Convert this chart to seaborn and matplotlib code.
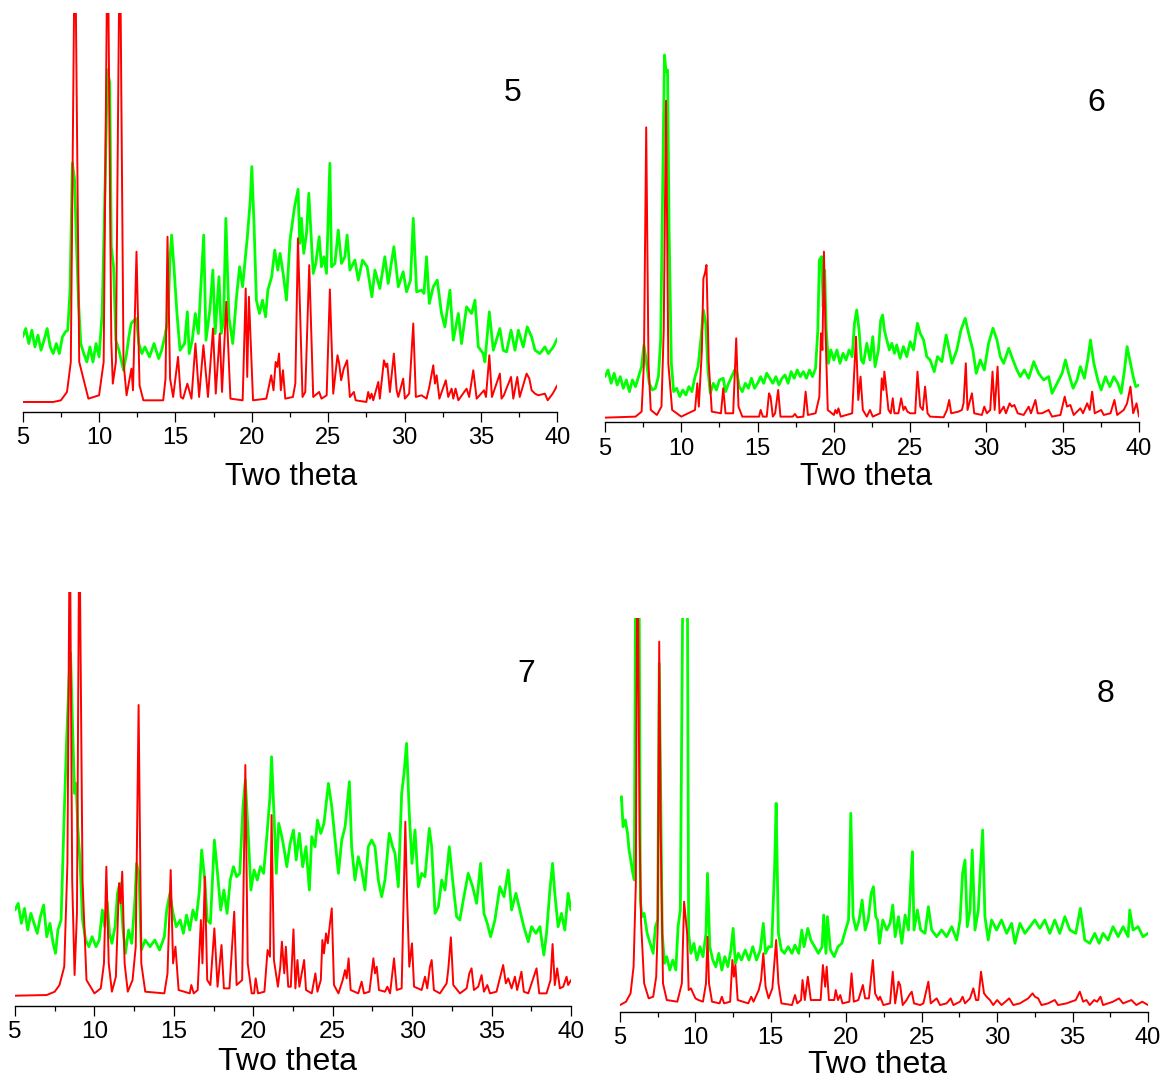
import pandas as pd
import matplotlib
matplotlib.use("Agg")
import matplotlib.pyplot as plt
from matplotlib.ticker import MultipleLocator
import seaborn as sns

# values: (two theta, intensity in arbitrary units)
# panel 5
red5 = [(5.0, 30), (7.0, 30), (7.5, 35), (7.9, 60), (8.15, 150), (8.42, 1500), (8.7, 150),
        (9.3, 40), (10.0, 50), (10.3, 150), (10.56, 1500), (10.8, 210), (10.9, 85), (11.1, 150),
        (11.36, 1500), (11.6, 150), (11.8, 50), (12.12, 130), (12.22, 65), (12.45, 480),
        (12.65, 80), (12.9, 35), (14.2, 35), (14.35, 100), (14.48, 525), (14.65, 100),
        (14.85, 45), (15.17, 165), (15.35, 45), (15.5, 40), (15.78, 85), (16.05, 40),
        (16.31, 205), (16.55, 45), (16.83, 200), (17.13, 45), (17.46, 250), (17.64, 55),
        (17.9, 235), (18.05, 60), (18.33, 330), (18.6, 40), (19.4, 35), (19.6, 370),
        (19.7, 105), (19.81, 345), (20.08, 35), (20.95, 40), (21.27, 110), (21.42, 65),
        (21.56, 150), (21.67, 135), (21.78, 175), (21.9, 65), (22.04, 125), (22.19, 40),
        (22.69, 45), (22.85, 85), (23.02, 520), (23.32, 45), (23.5, 60), (23.76, 440),
        (24.02, 45), (24.41, 60), (24.56, 40), (24.9, 50), (25.11, 367), (25.33, 55),
        (25.61, 170), (25.72, 145), (25.85, 95), (26.02, 130), (26.24, 155), (26.42, 45),
        (26.68, 60), (26.8, 35), (27.5, 30), (27.62, 60), (27.73, 40), (27.84, 55),
        (27.95, 35), (28.28, 90), (28.38, 40), (28.65, 155), (28.78, 135), (28.87, 145),
        (29.04, 60), (29.3, 175), (29.48, 65), (29.59, 45), (29.91, 100), (30.02, 40),
        (30.3, 55), (30.57, 265), (30.74, 45), (31.11, 50), (31.44, 40), (31.62, 75),
        (31.88, 140), (31.99, 85), (32.1, 110), (32.28, 40), (32.7, 95), (32.86, 45),
        (33.08, 70), (33.19, 40), (33.34, 70), (33.52, 35), (34.06, 70), (34.23, 45),
        (34.5, 125), (34.72, 40), (35.2, 65), (35.33, 45), (35.55, 170), (35.72, 45),
        (36.24, 115), (36.35, 40), (36.5, 50), (36.97, 105), (37.12, 40), (37.38, 105),
        (37.54, 45), (37.99, 115), (38.17, 100), (38.32, 65), (38.54, 55), (38.76, 50),
        (39.19, 55), (39.37, 35), (39.7, 55), (40.0, 80)]
green5 = [(5.0, 225), (5.2, 250), (5.4, 205), (5.6, 245), (5.8, 195), (6.0, 230), (6.2, 185),
          (6.4, 215), (6.6, 250), (6.8, 195), (7.0, 175), (7.2, 205), (7.4, 175), (7.6, 225),
          (7.8, 240), (7.95, 245), (8.1, 365), (8.25, 745), (8.4, 695), (8.5, 535),
          (8.65, 335), (8.8, 205), (9.0, 175), (9.2, 150), (9.4, 195), (9.6, 150), (9.8, 205),
          (10.0, 165), (10.2, 295), (10.4, 695), (10.55, 1025), (10.7, 985), (10.8, 495),
          (10.95, 435), (11.1, 215), (11.3, 185), (11.45, 155), (11.6, 125), (11.8, 175),
          (11.95, 225), (12.1, 265), (12.3, 275), (12.45, 280), (12.6, 205), (12.8, 175),
          (13.0, 195), (13.3, 165), (13.6, 205), (13.9, 160), (14.1, 185), (14.3, 225),
          (14.5, 275), (14.65, 465), (14.75, 530), (14.9, 435), (15.1, 295), (15.3, 185),
          (15.6, 205), (15.78, 300), (15.9, 175), (16.1, 215), (16.3, 295), (16.5, 235),
          (16.65, 365), (16.85, 530), (17.0, 215), (17.25, 305), (17.45, 425), (17.6, 235),
          (17.85, 405), (18.0, 235), (18.15, 275), (18.3, 580), (18.5, 285), (18.75, 205),
          (19.0, 345), (19.2, 435), (19.4, 375), (19.55, 450), (19.7, 520), (19.9, 635),
          (20.0, 735), (20.15, 555), (20.3, 335), (20.5, 295), (20.7, 335), (20.9, 285),
          (21.05, 365), (21.3, 405), (21.5, 485), (21.7, 425), (21.85, 475), (22.05, 415),
          (22.27, 335), (22.5, 515), (22.8, 615), (23.03, 667), (23.14, 505), (23.25, 580),
          (23.4, 475), (23.58, 535), (23.73, 655), (23.86, 545), (24.02, 415), (24.19, 445),
          (24.41, 525), (24.56, 435), (24.72, 465), (24.89, 415), (25.11, 745), (25.22, 435),
          (25.44, 445), (25.66, 545), (25.87, 445), (26.09, 465), (26.24, 530), (26.42, 425),
          (26.75, 455), (26.97, 395), (27.25, 455), (27.55, 435), (27.86, 345), (28.06, 425),
          (28.38, 370), (28.71, 465), (28.93, 385), (29.3, 495), (29.59, 375), (29.91, 420),
          (30.13, 360), (30.39, 395), (30.57, 580), (30.79, 360), (31.11, 365), (31.27, 355),
          (31.44, 465), (31.62, 325), (31.88, 375), (32.14, 395), (32.42, 295), (32.64, 255),
          (32.97, 365), (33.19, 215), (33.52, 295), (33.73, 205), (34.06, 315), (34.39, 295),
          (34.61, 335), (34.83, 195), (35.15, 175), (35.26, 150), (35.55, 300), (35.81, 185),
          (36.24, 250), (36.46, 185), (36.68, 180), (36.97, 245), (37.23, 185), (37.45, 245),
          (37.77, 195), (38.03, 255), (38.32, 225), (38.54, 185), (38.86, 175), (39.19, 195),
          (39.41, 175), (39.74, 195), (40.0, 220)]

# panel 6
red6 = [(5.0, 14), (7.0, 17), (7.4, 32), (7.55, 177), (7.7, 885), (7.85, 177), (8.0, 37),
        (8.4, 22), (8.7, 47), (8.85, 277), (9.0, 965), (9.15, 177), (9.4, 37), (10.0, 17),
        (10.9, 37), (11.05, 117), (11.15, 47), (11.35, 217), (11.45, 432), (11.55, 447),
        (11.65, 472), (11.8, 177), (12.0, 32), (12.6, 27), (12.75, 102), (12.9, 27),
        (13.4, 27), (13.6, 252), (13.75, 47), (14.0, 17), (15.1, 17), (15.2, 37), (15.35, 17),
        (15.6, 17), (15.75, 87), (15.85, 77), (16.0, 17), (16.15, 27), (16.35, 97), (16.5, 17),
        (17.3, 17), (17.45, 25), (17.6, 15), (18.0, 17), (18.15, 92), (18.3, 22), (18.8, 27),
        (19.05, 77), (19.15, 267), (19.25, 217), (19.35, 512), (19.45, 277), (19.6, 37),
        (20.0, 22), (20.1, 37), (20.2, 27), (20.3, 42), (20.45, 17), (21.2, 27), (21.45, 257),
        (21.6, 67), (21.75, 137), (21.9, 37), (22.16, 17), (22.37, 37), (22.55, 17),
        (23.03, 27), (23.14, 132), (23.25, 97), (23.31, 152), (23.42, 107), (23.58, 37),
        (23.73, 27), (23.86, 72), (23.97, 27), (24.23, 27), (24.41, 72), (24.56, 37),
        (24.67, 47), (24.82, 32), (25.0, 27), (25.33, 27), (25.48, 152), (25.66, 47),
        (25.83, 37), (25.98, 107), (26.14, 27), (26.31, 17), (27.19, 15), (27.41, 37),
        (27.56, 67), (27.69, 27), (28.17, 32), (28.39, 37), (28.5, 57), (28.65, 177),
        (28.76, 37), (29.05, 87), (29.2, 27), (29.7, 22), (29.86, 47), (30.03, 27),
        (30.25, 37), (30.4, 152), (30.54, 37), (30.73, 167), (30.86, 27), (31.13, 47),
        (31.28, 27), (31.52, 57), (31.67, 47), (31.83, 52), (32.05, 27), (32.44, 22),
        (32.77, 47), (32.92, 27), (33.21, 67), (33.36, 27), (33.64, 27), (34.08, 37),
        (34.3, 17), (34.85, 22), (35.13, 77), (35.28, 47), (35.5, 52), (35.72, 22),
        (36.16, 42), (36.33, 27), (36.6, 57), (36.77, 37), (36.93, 92), (37.1, 27),
        (37.52, 37), (37.69, 22), (38.13, 27), (38.39, 67), (38.57, 22), (39.0, 37),
        (39.22, 57), (39.44, 107), (39.62, 27), (39.84, 57), (40.0, 17)]
green6 = [(5.0, 137), (5.2, 157), (5.4, 117), (5.6, 147), (5.8, 112), (6.0, 137), (6.2, 102),
          (6.4, 127), (6.6, 92), (6.8, 127), (7.0, 107), (7.2, 137), (7.4, 167), (7.55, 232),
          (7.7, 187), (7.9, 117), (8.1, 97), (8.3, 102), (8.5, 137), (8.65, 247), (8.8, 777),
          (8.9, 1102), (9.0, 1052), (9.1, 1057), (9.2, 577), (9.35, 177), (9.5, 92), (9.7, 102),
          (9.9, 77), (10.1, 97), (10.3, 82), (10.5, 107), (10.7, 92), (10.9, 137), (11.1, 167),
          (11.3, 257), (11.45, 337), (11.6, 297), (11.75, 157), (11.9, 87), (12.1, 117),
          (12.3, 97), (12.5, 127), (12.75, 132), (12.9, 92), (13.1, 117), (13.3, 137),
          (13.5, 157), (13.65, 147), (13.8, 107), (14.0, 92), (14.2, 117), (14.4, 102),
          (14.6, 132), (14.8, 102), (15.0, 117), (15.2, 137), (15.4, 117), (15.6, 147),
          (15.8, 132), (16.0, 117), (16.2, 137), (16.4, 112), (16.6, 132), (16.8, 142),
          (17.0, 117), (17.2, 152), (17.4, 132), (17.6, 157), (17.8, 137), (18.0, 152),
          (18.2, 132), (18.4, 157), (18.6, 137), (18.8, 162), (18.95, 277), (19.05, 487),
          (19.2, 497), (19.3, 347), (19.4, 457), (19.5, 277), (19.65, 177), (19.8, 217),
          (20.0, 187), (20.2, 217), (20.4, 177), (20.6, 207), (20.8, 187), (21.0, 217),
          (21.2, 197), (21.35, 297), (21.5, 337), (21.65, 277), (21.8, 187), (21.94, 177),
          (22.16, 237), (22.37, 187), (22.55, 257), (22.7, 167), (22.92, 217), (23.07, 307),
          (23.2, 322), (23.31, 277), (23.47, 247), (23.64, 217), (23.8, 237), (23.97, 207),
          (24.12, 232), (24.34, 192), (24.56, 227), (24.78, 197), (25.0, 242), (25.22, 217),
          (25.48, 297), (25.66, 267), (25.88, 247), (26.09, 197), (26.31, 187), (26.58, 152),
          (26.79, 197), (27.08, 182), (27.36, 262), (27.52, 227), (27.74, 177), (28.06, 217),
          (28.33, 277), (28.61, 312), (28.83, 267), (29.11, 217), (29.33, 147), (29.6, 187),
          (29.86, 157), (30.14, 237), (30.43, 282), (30.69, 247), (30.91, 197), (31.13, 177),
          (31.46, 222), (31.74, 187), (32.0, 157), (32.22, 137), (32.48, 157), (32.77, 132),
          (33.1, 182), (33.42, 147), (33.75, 127), (34.08, 137), (34.3, 87), (34.63, 117),
          (34.96, 147), (35.18, 187), (35.39, 147), (35.68, 102), (35.94, 127), (36.16, 167),
          (36.42, 132), (36.64, 187), (36.82, 247), (37.04, 177), (37.3, 127), (37.52, 97),
          (37.8, 137), (38.09, 107), (38.35, 137), (38.61, 117), (38.83, 87), (39.05, 157),
          (39.22, 227), (39.4, 187), (39.62, 137), (39.79, 107), (40.0, 112)]

# panel 7
red7 = [(5.0, 30), (7.0, 32), (7.5, 42), (7.8, 62), (8.1, 117), (8.3, 427), (8.45, 1500),
        (8.6, 377), (8.75, 92), (8.9, 277), (9.05, 1500), (9.25, 377), (9.5, 77), (10.0, 37),
        (10.4, 52), (10.6, 127), (10.75, 417), (10.9, 127), (11.1, 42), (11.35, 87),
        (11.55, 367), (11.65, 307), (11.75, 402), (11.9, 127), (12.1, 42), (12.4, 77),
        (12.6, 177), (12.78, 902), (12.95, 127), (13.2, 42), (14.4, 37), (14.6, 97),
        (14.8, 407), (14.95, 127), (15.1, 177), (15.3, 47), (16.0, 37), (16.1, 62),
        (16.25, 37), (16.5, 47), (16.7, 257), (16.8, 127), (16.95, 387), (17.1, 77),
        (17.3, 62), (17.55, 232), (17.75, 57), (18.0, 182), (18.15, 52), (18.5, 52),
        (18.8, 282), (18.95, 62), (19.3, 77), (19.5, 722), (19.65, 127), (19.9, 37),
        (20.05, 37), (20.15, 82), (20.3, 37), (20.7, 42), (20.9, 167), (21.05, 147),
        (21.15, 572), (21.3, 137), (21.55, 57), (21.7, 117), (21.8, 192), (21.95, 97),
        (22.05, 177), (22.2, 57), (22.36, 57), (22.53, 229), (22.65, 52), (22.78, 137),
        (22.9, 57), (23.2, 137), (23.32, 47), (23.68, 37), (23.91, 97), (24.04, 42),
        (24.25, 77), (24.35, 197), (24.45, 157), (24.58, 217), (24.69, 187), (24.79, 232),
        (24.94, 292), (25.08, 62), (25.36, 37), (25.63, 77), (25.78, 107), (25.88, 82),
        (26.0, 142), (26.13, 47), (26.61, 37), (26.82, 72), (26.97, 37), (27.31, 42),
        (27.56, 142), (27.66, 97), (27.77, 117), (27.91, 47), (28.29, 42), (28.44, 57),
        (28.61, 37), (28.86, 142), (29.03, 47), (29.34, 52), (29.49, 377), (29.57, 552),
        (29.68, 327), (29.82, 117), (29.99, 187), (30.12, 57), (30.6, 47), (30.81, 87),
        (30.95, 52), (31.12, 117), (31.23, 137), (31.37, 47), (31.75, 37), (32.17, 67),
        (32.27, 107), (32.44, 205), (32.59, 62), (33.01, 37), (33.43, 52), (33.6, 97),
        (33.74, 112), (33.89, 47), (34.16, 57), (34.37, 92), (34.52, 42), (34.73, 62),
        (34.9, 37), (35.31, 42), (35.52, 82), (35.73, 122), (35.9, 67), (36.05, 82),
        (36.26, 52), (36.47, 87), (36.61, 47), (36.88, 102), (37.03, 42), (37.31, 37),
        (37.83, 112), (38.0, 37), (38.46, 37), (38.71, 77), (38.84, 185), (38.98, 62),
        (39.13, 112), (39.3, 52), (39.51, 57), (39.72, 87), (39.82, 62), (40.0, 77)]
green7 = [(5.0, 287), (5.2, 307), (5.4, 247), (5.6, 292), (5.8, 227), (6.0, 277), (6.2, 247),
          (6.4, 217), (6.6, 267), (6.8, 302), (7.0, 207), (7.2, 247), (7.4, 187), (7.55, 157),
          (7.7, 227), (7.9, 257), (8.1, 577), (8.25, 797), (8.4, 977), (8.5, 1057), (8.6, 877),
          (8.75, 637), (8.85, 667), (8.95, 537), (9.1, 427), (9.25, 257), (9.45, 197),
          (9.65, 177), (9.85, 207), (10.1, 177), (10.3, 197), (10.5, 287), (10.65, 237),
          (10.8, 312), (10.95, 217), (11.1, 187), (11.3, 237), (11.45, 337), (11.6, 367),
          (11.8, 227), (11.95, 157), (12.15, 227), (12.35, 187), (12.55, 317), (12.65, 427),
          (12.8, 397), (12.95, 167), (13.2, 197), (13.5, 177), (13.8, 197), (14.1, 167),
          (14.4, 207), (14.55, 287), (14.75, 337), (14.95, 277), (15.15, 237), (15.4, 257),
          (15.6, 217), (15.8, 272), (16.0, 227), (16.2, 287), (16.4, 257), (16.6, 342),
          (16.75, 467), (16.95, 377), (17.1, 257), (17.3, 247), (17.55, 497), (17.75, 397),
          (17.95, 287), (18.15, 347), (18.35, 277), (18.55, 377), (18.75, 417), (18.95, 387),
          (19.15, 397), (19.35, 597), (19.5, 677), (19.7, 497), (19.85, 347), (20.05, 407),
          (20.25, 377), (20.45, 417), (20.65, 397), (20.85, 507), (21.05, 627), (21.15, 747),
          (21.3, 577), (21.45, 397), (21.6, 547), (21.8, 507), (21.95, 467), (22.11, 417),
          (22.32, 487), (22.53, 527), (22.7, 437), (22.9, 517), (23.11, 417), (23.32, 477),
          (23.53, 347), (23.68, 507), (23.89, 477), (24.04, 557), (24.25, 517), (24.45, 547),
          (24.73, 667), (24.94, 597), (25.15, 497), (25.36, 397), (25.57, 497), (25.78, 537),
          (25.94, 617), (26.05, 672), (26.19, 477), (26.4, 377), (26.61, 447), (26.82, 407),
          (27.03, 347), (27.24, 477), (27.45, 497), (27.66, 477), (27.87, 377), (28.08, 327),
          (28.29, 377), (28.56, 517), (28.77, 477), (28.92, 457), (29.13, 357), (29.34, 637),
          (29.49, 697), (29.65, 787), (29.82, 577), (29.99, 427), (30.18, 527), (30.39, 357),
          (30.6, 397), (30.81, 387), (31.08, 532), (31.23, 477), (31.44, 277), (31.65, 297),
          (31.86, 377), (32.07, 347), (32.34, 477), (32.55, 377), (32.8, 267), (33.0, 257),
          (33.22, 317), (33.53, 397), (33.81, 357), (34.06, 307), (34.31, 427), (34.52, 277),
          (34.73, 247), (34.94, 207), (35.21, 257), (35.52, 357), (35.78, 327), (36.05, 407),
          (36.26, 287), (36.53, 337), (36.78, 287), (37.03, 237), (37.31, 192), (37.52, 237),
          (37.79, 217), (38.04, 237), (38.29, 152), (38.46, 217), (38.67, 347), (38.84, 427),
          (38.98, 337), (39.19, 237), (39.4, 277), (39.61, 227), (39.82, 337), (40.0, 287)]

# panel 8
red8 = [(5.0, 20), (5.4, 30), (5.7, 55), (5.9, 135), (6.05, 385), (6.15, 1500), (6.3, 535),
        (6.4, 265), (6.6, 85), (6.9, 40), (7.2, 45), (7.4, 105), (7.5, 255), (7.6, 1110),
        (7.7, 535), (7.85, 85), (8.1, 35), (8.8, 30), (9.1, 85), (9.25, 330), (9.45, 235),
        (9.55, 65), (9.7, 70), (9.9, 50), (10.0, 40), (10.2, 35), (10.5, 30), (10.7, 85),
        (10.8, 225), (10.9, 85), (11.1, 30), (11.6, 25), (11.75, 45), (11.9, 25), (12.3, 30),
        (12.45, 155), (12.55, 105), (12.65, 140), (12.8, 35), (13.5, 25), (13.7, 45),
        (13.85, 30), (14.2, 65), (14.35, 95), (14.5, 175), (14.65, 75), (14.85, 40),
        (15.1, 70), (15.35, 215), (15.5, 85), (15.7, 25), (16.4, 20), (16.6, 50), (16.75, 25),
        (17.0, 35), (17.1, 95), (17.25, 35), (17.45, 105), (17.65, 35), (18.3, 35),
        (18.45, 140), (18.6, 75), (18.7, 135), (18.85, 35), (19.2, 35), (19.3, 65),
        (19.45, 35), (19.6, 50), (19.75, 25), (20.2, 30), (20.35, 115), (20.5, 30),
        (20.8, 35), (21.1, 80), (21.25, 40), (21.5, 40), (21.76, 155), (21.91, 55),
        (22.13, 35), (22.24, 45), (22.46, 20), (22.9, 25), (23.08, 120), (23.24, 25),
        (23.46, 90), (23.57, 80), (23.74, 20), (24.0, 35), (24.18, 50), (24.34, 60),
        (24.49, 25), (24.89, 20), (25.11, 25), (25.44, 90), (25.6, 25), (25.99, 40),
        (26.21, 20), (26.65, 25), (26.92, 40), (27.1, 20), (27.54, 30), (27.71, 45),
        (27.87, 25), (28.2, 40), (28.42, 70), (28.6, 35), (28.75, 35), (28.93, 120),
        (29.13, 55), (29.3, 45), (29.52, 35), (29.74, 20), (30.0, 35), (30.29, 20),
        (30.8, 40), (31.07, 20), (31.51, 25), (32.06, 40), (32.35, 55), (32.5, 45),
        (32.72, 40), (32.94, 20), (33.38, 25), (33.82, 35), (34.04, 20), (34.6, 25),
        (35.21, 35), (35.48, 60), (35.7, 30), (35.92, 35), (36.14, 20), (36.43, 35),
        (36.63, 30), (36.85, 45), (37.02, 20), (37.68, 30), (38.08, 40), (38.35, 25),
        (38.9, 35), (39.23, 20), (39.62, 30), (40.0, 20)]
green8 = [(5.0, 635), (5.1, 645), (5.2, 555), (5.35, 575), (5.5, 535), (5.6, 485), (5.75, 445),
          (5.85, 415), (5.95, 395), (6.05, 1500), (6.25, 1500), (6.35, 335), (6.45, 285),
          (6.6, 295), (6.8, 235), (7.0, 205), (7.2, 175), (7.35, 255), (7.5, 275), (7.6, 1045),
          (7.7, 645), (7.8, 235), (7.95, 145), (8.1, 165), (8.3, 125), (8.5, 155), (8.7, 125),
          (8.85, 255), (9.0, 305), (9.2, 1500), (9.45, 1500), (9.55, 235), (9.7, 175),
          (9.9, 205), (10.1, 155), (10.3, 195), (10.5, 165), (10.7, 235), (10.8, 415),
          (10.95, 195), (11.15, 155), (11.35, 135), (11.55, 175), (11.75, 125), (11.95, 165),
          (12.15, 135), (12.35, 185), (12.5, 250), (12.65, 145), (12.85, 175), (13.05, 155),
          (13.3, 185), (13.55, 155), (13.8, 195), (14.05, 155), (14.3, 185), (14.5, 265),
          (14.65, 175), (14.85, 195), (15.05, 195), (15.25, 435), (15.35, 625), (15.5, 235),
          (15.7, 185), (15.9, 175), (16.15, 195), (16.4, 175), (16.6, 200), (16.85, 175),
          (17.05, 245), (17.2, 195), (17.45, 250), (17.65, 215), (17.9, 195), (18.15, 175),
          (18.4, 195), (18.5, 290), (18.65, 175), (18.75, 285), (18.95, 185), (19.2, 165),
          (19.45, 195), (19.7, 205), (19.95, 245), (20.15, 275), (20.3, 595), (20.45, 285),
          (20.65, 245), (20.85, 275), (21.05, 335), (21.25, 245), (21.45, 275), (21.65, 355),
          (21.8, 375), (21.95, 285), (22.07, 275), (22.2, 205), (22.42, 275), (22.68, 245),
          (22.9, 265), (23.08, 320), (23.24, 225), (23.46, 285), (23.68, 205), (23.9, 290),
          (24.12, 245), (24.27, 385), (24.38, 480), (24.49, 245), (24.71, 305), (24.93, 245),
          (25.22, 235), (25.44, 315), (25.66, 245), (25.99, 225), (26.32, 245), (26.65, 225),
          (26.99, 255), (27.32, 215), (27.54, 275), (27.71, 415), (27.87, 455), (28.02, 255),
          (28.2, 305), (28.35, 485), (28.53, 245), (28.75, 305), (28.9, 435), (29.04, 545),
          (29.19, 285), (29.41, 215), (29.63, 275), (29.96, 245), (30.29, 275), (30.63, 235),
          (30.96, 265), (31.18, 205), (31.51, 265), (31.84, 235), (32.17, 255), (32.5, 275),
          (32.83, 250), (33.16, 275), (33.49, 235), (33.82, 275), (34.15, 235), (34.49, 285),
          (34.82, 245), (35.21, 235), (35.52, 310), (35.81, 215), (36.14, 205), (36.47, 235),
          (36.76, 205), (37.02, 235), (37.35, 215), (37.68, 255), (38.02, 225), (38.35, 255),
          (38.68, 225), (38.79, 305), (39.01, 245), (39.34, 255), (39.67, 225), (40.0, 235)]

panels = [
    # label, red, green, axes box in pixels (left, top, right, bottom), y top, label pos, theta pos
    ("5", red5, green5, (22.7, 13, 557.3, 412), 1195, (513, 93), (291, 477), 17, 22),
    ("6", red6, green6, (605, 13, 1139, 422.3), 1228, (1096, 103), (866, 477), 17, 22),
    ("7", red7, green7, (15, 591.7, 571, 1005.7), 1242, (526, 674), (287, 1062), 17.5, 23),
    ("8", red8, green8, (620, 618.3, 1148, 1011.7), 1180, (1105, 694), (878, 1065), 17, 23),
]

W, H = 1166, 1081
sns.set_theme(style="white")
plt.rcParams['font.family'] = ['Liberation Sans', 'DejaVu Sans']
plt.rcParams['text.color'] = 'black'
plt.rcParams['xtick.color'] = 'black'
plt.rcParams['axes.labelcolor'] = 'black'

fig = plt.figure(figsize=(W / 100, H / 100), dpi=100)

for name, red, green, box, ytop, numpos, thetapos, tfs, lfs in panels:
    l, t, r, b = box
    ax = fig.add_axes([l / W, 1 - b / H, (r - l) / W, (b - t) / H])
    g = pd.DataFrame(green, columns=["theta", "I"])
    rd = pd.DataFrame(red, columns=["theta", "I"])
    sns.lineplot(data=g, x="theta", y="I", ax=ax, color="#00ff00", lw=2.0,
                 estimator=None, sort=False)
    sns.lineplot(data=rd, x="theta", y="I", ax=ax, color="#ff0000", lw=1.4,
                 estimator=None, sort=False)
    ax.set_xlim(5, 40)
    ax.set_ylim(0, ytop)
    ax.set_xlabel("")
    ax.set_ylabel("")
    ax.set_yticks([])
    for s in ["left", "top", "right"]:
        ax.spines[s].set_visible(False)
    ax.spines["bottom"].set_color("black")
    ax.spines["bottom"].set_linewidth(1.0)
    ax.set_xticks(range(5, 41, 5))
    ax.xaxis.set_minor_locator(MultipleLocator(2.5))
    ax.tick_params(axis="x", which="major", direction="out", length=7, width=0.9,
                   color="black", labelcolor="black", labelsize=tfs, pad=4, bottom=True)
    ax.tick_params(axis="x", which="minor", direction="out", length=3.5, width=0.9,
                   color="black", bottom=True)
    ax.patch.set_alpha(0)
    fig.text(numpos[0] / W, 1 - numpos[1] / H, name, fontsize=23, color="black",
             ha="center", va="center")
    fig.text(thetapos[0] / W, 1 - thetapos[1] / H, "Two theta", fontsize=lfs,
             color="black", ha="center", va="center")

fig.savefig("out.png", dpi=100)
